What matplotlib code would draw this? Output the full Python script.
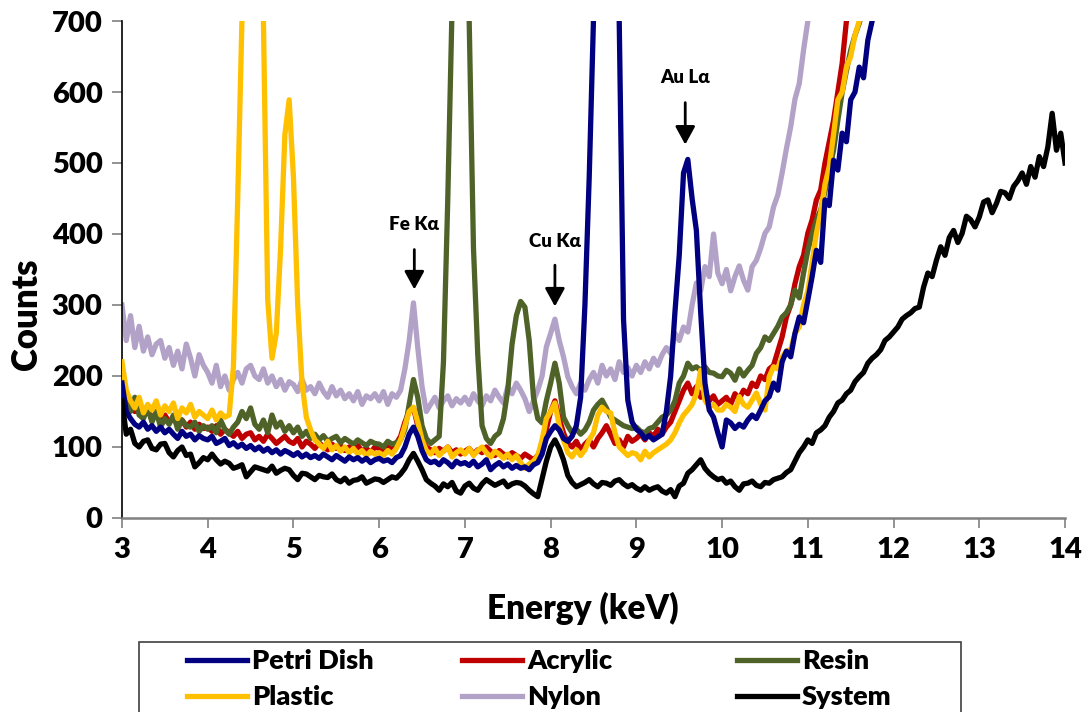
import numpy as np
import matplotlib
matplotlib.use('Agg')
import matplotlib.pyplot as plt
from matplotlib.lines import Line2D
from matplotlib.patches import Rectangle

plt.rcParams['font.family'] = ['Lato', 'DejaVu Sans']
plt.rcParams['font.weight'] = 'heavy'

# detector channels, 0.05 keV wide, 3-14 keV
energy = np.round(np.arange(3.0, 14.0001, 0.05), 2)

# counts per channel (rows = one keV each)
petri_dish = [
    190, 150, 140, 132, 128, 135, 125, 130, 122, 128, 120, 125, 118, 112, 122, 115, 118, 110, 116, 112,
    110, 115, 105, 108, 112, 102, 106, 100, 104, 98, 102, 96, 100, 94, 98, 92, 96, 90, 95, 92,
    88, 92, 86, 90, 85, 88, 84, 90, 86, 82, 88, 84, 80, 86, 82, 85, 80, 84, 78, 82,
    84, 80, 82, 78, 85, 88, 100, 118, 128, 115, 95, 82, 78, 80, 75, 82, 78, 72, 80, 76,
    78, 74, 80, 72, 76, 82, 68, 74, 78, 72, 76, 70, 74, 70, 72, 68, 75, 78, 90, 112,
    122, 130, 124, 112, 108, 115, 130, 170, 300, 480, 700, 950, 1150, 1250, 1150, 950, 700, 280, 166, 135,
    125, 120, 112, 116, 110, 114, 118, 150, 200, 290, 370, 486, 505, 450, 405, 290, 190, 152, 142, 120,
    100, 138, 134, 126, 132, 128, 138, 145, 140, 152, 165, 171, 190, 180, 220, 235, 227, 260, 283, 275,
    307, 340, 377, 360, 448, 440, 504, 490, 542, 530, 589, 600, 635, 620, 673, 700, 760,
]
acrylic = [
    200, 165, 158, 150, 160, 145, 152, 140, 148, 138, 145, 135, 140, 132, 138, 128, 135, 125, 132, 126,
    128, 122, 130, 118, 125, 120, 115, 122, 112, 118, 120, 110, 115, 108, 118, 112, 105, 110, 115, 108,
    105, 112, 100, 108, 104, 98, 106, 100, 96, 104, 98, 102, 95, 100, 96, 102, 94, 98, 92, 100,
    98, 95, 100, 96, 105, 115, 135, 150, 155, 130, 110, 100, 96, 92, 98, 94, 100, 92, 96, 90,
    94, 98, 90, 96, 92, 100, 94, 88, 95, 90, 86, 92, 88, 84, 90, 86, 82, 88, 100, 125,
    150, 165, 140, 120, 105, 100, 108, 96, 104, 110, 100, 112, 120, 130, 118, 105, 110, 100, 115, 108,
    112, 118, 110, 120, 115, 125, 118, 128, 135, 150, 165, 180, 190, 175, 185, 170, 178, 165, 172, 160,
    165, 170, 160, 175, 168, 180, 175, 190, 185, 200, 195, 210, 215, 235, 255, 283, 300, 330, 354, 370,
    401, 420, 448, 462, 500, 530, 560, 600, 640, 700, 760,
]
resin = [
    200, 160, 150, 170, 145, 140, 155, 135, 150, 128, 140, 132, 145, 125, 138, 130, 128, 135, 122, 130,
    125, 130, 120, 138, 125, 118, 128, 135, 150, 140, 155, 132, 125, 138, 120, 145, 128, 135, 122, 130,
    120, 128, 115, 122, 112, 118, 110, 116, 108, 112, 115, 106, 112, 108, 104, 110, 106, 102, 108, 105,
    104, 100, 108, 104, 106, 110, 125, 160, 195, 170, 130, 112, 105, 110, 115, 220, 448, 720, 950, 1100,
    950, 700, 380, 230, 130, 112, 105, 115, 120, 140, 180, 245, 285, 305, 297, 250, 170, 140, 134, 165,
    190, 218, 190, 142, 130, 120, 125, 118, 124, 135, 152, 160, 166, 155, 142, 138, 134, 130, 128, 126,
    128, 122, 120, 126, 128, 135, 142, 145, 152, 165, 190, 200, 218, 210, 213, 208, 213, 205, 204, 200,
    199, 208, 204, 194, 210, 200, 208, 215, 232, 240, 255, 250, 260, 270, 283, 289, 300, 321, 310, 345,
    377, 400, 420, 434, 460, 490, 518, 560, 599, 630, 659, 680, 697, 720, 740,
]
plastic = [
    220, 180, 165, 155, 170, 148, 160, 152, 165, 145, 158, 150, 162, 140, 155, 148, 160, 142, 150, 145,
    140, 152, 138, 148, 142, 145, 213, 450, 700, 1000, 1200, 1150, 950, 700, 307, 225, 260, 380, 540, 589,
    480, 300, 190, 142, 124, 110, 104, 98, 108, 96, 102, 94, 100, 92, 98, 90, 95, 88, 94, 90,
    92, 88, 95, 90, 98, 110, 130, 150, 156, 135, 110, 95, 90, 98, 88, 94, 100, 86, 92, 96,
    90, 98, 88, 95, 100, 92, 86, 94, 90, 84, 90, 82, 88, 78, 70, 76, 80, 88, 110, 140,
    150, 162, 130, 110, 92, 86, 96, 88, 96, 110, 120, 145, 156, 150, 148, 120, 100, 94, 88, 92,
    90, 82, 94, 86, 92, 96, 100, 104, 110, 120, 134, 145, 152, 160, 175, 208, 166, 156, 160, 152,
    152, 160, 156, 150, 171, 160, 156, 166, 176, 160, 152, 199, 213, 210, 227, 235, 237, 260, 269, 300,
    320, 360, 401, 430, 470, 495, 540, 589, 600, 635, 650, 680, 700, 740,
]
nylon = [
    300, 250, 285, 240, 270, 235, 255, 230, 245, 250, 225, 240, 215, 235, 210, 245, 225, 200, 230, 215,
    205, 190, 215, 185, 200, 180, 195, 205, 190, 210, 215, 200, 195, 210, 190, 200, 185, 195, 180, 192,
    188, 178, 195, 180, 185, 175, 190, 178, 170, 185, 172, 180, 168, 175, 165, 178, 160, 172, 168, 175,
    165, 178, 160, 175, 170, 180, 210, 250, 303, 240, 185, 150, 160, 170, 155, 165, 172, 158, 168, 162,
    170, 160, 175, 165, 158, 172, 165, 180, 170, 162, 185, 175, 190, 180, 168, 150, 165, 180, 200, 241,
    260, 280, 250, 227, 199, 185, 175, 190, 180, 195, 205, 190, 215, 200, 210, 195, 220, 205, 212, 200,
    215, 205, 220, 210, 225, 215, 230, 240, 232, 260, 250, 269, 262, 300, 331, 320, 354, 340, 400, 345,
    330, 350, 320, 340, 355, 335, 321, 354, 363, 380, 401, 410, 438, 455, 486, 520, 551, 590, 612, 659,
    700, 760,
]
system = [
    165, 118, 125, 105, 100, 108, 110, 98, 96, 104, 105, 92, 86, 95, 100, 88, 90, 72, 78, 85,
    82, 90, 82, 76, 80, 77, 70, 72, 75, 58, 65, 72, 70, 68, 66, 73, 63, 67, 70, 68,
    60, 54, 63, 62, 58, 54, 60, 58, 57, 62, 54, 51, 56, 49, 53, 54, 58, 49, 52, 55,
    54, 50, 54, 58, 56, 62, 70, 82, 91, 80, 68, 54, 49, 45, 39, 48, 44, 50, 38, 35,
    45, 49, 42, 39, 48, 54, 50, 46, 49, 52, 44, 48, 50, 49, 45, 39, 34, 30, 55, 80,
    100, 110, 98, 82, 60, 50, 44, 47, 50, 54, 48, 44, 50, 49, 46, 52, 54, 48, 44, 47,
    42, 39, 44, 39, 42, 44, 38, 35, 40, 30, 45, 49, 63, 68, 75, 82, 70, 63, 58, 54,
    56, 49, 52, 44, 39, 48, 49, 52, 46, 44, 50, 49, 54, 56, 58, 64, 68, 80, 92, 100,
    110, 105, 120, 124, 130, 142, 150, 162, 166, 175, 180, 192, 199, 205, 218, 225, 230, 237, 250, 255,
    262, 269, 280, 285, 289, 295, 297, 325, 345, 340, 363, 382, 370, 395, 405, 388, 401, 425, 420, 410,
    424, 445, 448, 430, 443, 460, 458, 450, 467, 475, 486, 470, 495, 480, 509, 495, 523, 570, 518, 542,
    500,
]

names = ['Petri Dish', 'Acrylic', 'Resin', 'Plastic', 'Nylon', 'System']
colors = ['#000080', '#C00000', '#4F6228', '#FFC000', '#B3A2C7', '#000000']
spectra = [petri_dish, acrylic, resin, plastic, nylon, system]
layer = [5, 2, 3, 4, 1, 6]

# peak labels: (text, energy, text height, arrow tail, arrow tip)
peaks = [
    ('Fe Kα', 6.41, 413, 382, 318),
    ('Cu Kα', 8.05, 390, 360, 294),
    ('Au Lα', 9.57, 620, 589, 522),
]

fig = plt.figure(figsize=(10.92, 7.12), dpi=100)
ax = fig.add_axes([0.1117, 0.2725, 0.8636, 0.6980])

for name, counts, c, z in zip(names, spectra, colors, layer):
    ax.plot(energy[:len(counts)], counts, color=c, lw=3.8, label=name, zorder=z)

for label, e, ty, tail, tip in peaks:
    ax.text(e, ty, label, ha='center', va='center', fontsize=13.5, fontweight='heavy')
    ax.annotate('', xy=(e, tip), xytext=(e, tail),
                arrowprops=dict(arrowstyle='-|>,head_length=0.55,head_width=0.3',
                                lw=2, color='black', mutation_scale=20))

ax.set_xlim(3, 14)
ax.set_ylim(0, 700)
ax.set_xticks(range(3, 15))
ax.set_yticks(range(0, 701, 100))
ax.tick_params(direction='out', length=7, width=1.2, color='#808080',
               labelsize=21, pad=7)
for t in ax.get_xticklabels() + ax.get_yticklabels():
    t.set_fontweight('heavy')
ax.spines['top'].set_visible(False)
ax.spines['right'].set_visible(False)
ax.spines['left'].set_color('black')
ax.spines['left'].set_linewidth(1.2)
ax.spines['bottom'].set_color('#808080')
ax.spines['bottom'].set_linewidth(1.8)

fig.text(0.534, 0.146, 'Energy (keV)', ha='center', va='center', fontsize=24, fontweight='heavy')
fig.text(0.0247, 0.559, 'Counts', ha='center', va='center', rotation=90,
         fontsize=25, fontweight='heavy')

# legend: three single-column blocks inside one frame below the axes
handles = {n: Line2D([], [], color=c, lw=3.8) for n, c in zip(names, colors)}
columns = [('Petri Dish', 'Plastic'), ('Acrylic', 'Nylon'), ('Resin', 'System')]
col_x = [187, 462, 737]
for x, col in zip(col_x, columns):
    fig.legend([handles[n] for n in col], col, loc='upper left',
               bbox_to_anchor=(x / 1092, 1 - 649 / 712), frameon=False,
               borderpad=0, borderaxespad=0, handlelength=2.2, handletextpad=0.2,
               labelspacing=0.45, prop={'size': 19.5, 'weight': 'heavy'})
fig.patches.append(Rectangle((139 / 1092, -0.05), 822 / 1092, 0.05 + 1 - 642 / 712,
                             transform=fig.transFigure, fill=False,
                             edgecolor='#404040', lw=1.2))

fig.savefig('out.png', dpi=100)
